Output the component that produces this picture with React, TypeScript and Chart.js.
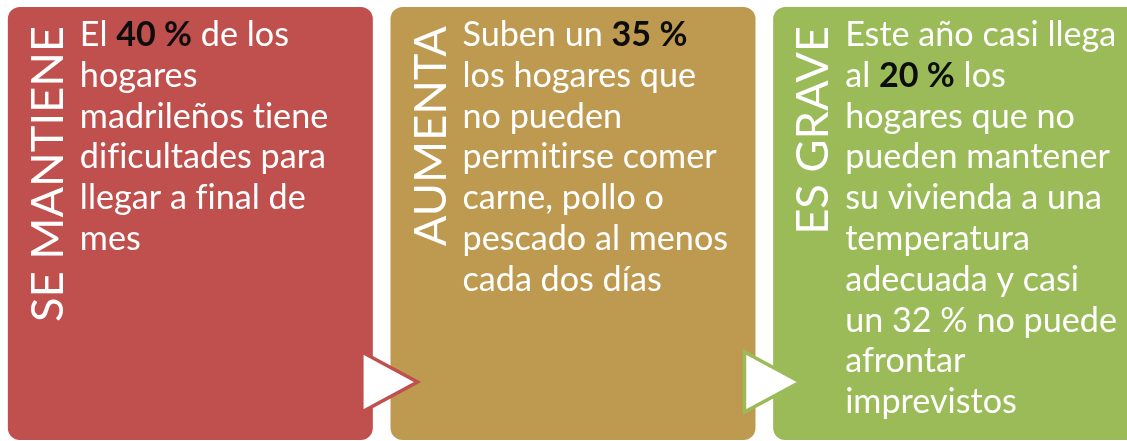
import React, { useEffect, useRef } from "react";
import { Chart, registerables } from "chart.js";

Chart.register(...registerables);

// ---- data ----
const categories = ["SE MANTIENE", "AUMENTA", "ES GRAVE"];
const panelExtent = [1, 1, 1];
const highlights = ["40 %", "35 %", "20 %"];
const panelColors = ["#C0504D", "#BE9A51", "#9BBB59"];
const arrowColors = ["#C0504D", "#9BBB59"];
const linesPanel1 = [
  "El {40 %} de los",
  "hogares",
  "madrileños tiene",
  "dificultades para",
  "llegar a final de",
  "mes",
];
const linesPanel2 = [
  "Suben un {35 %}",
  "los hogares que",
  "no pueden",
  "permitirse comer",
  "carne, pollo o",
  "pescado al menos",
  "cada dos días",
];
const linesPanel3 = [
  "Este año casi llega",
  "al {20 %} los",
  "hogares que no",
  "pueden mantener",
  "su vivienda a una",
  "temperatura",
  "adecuada y casi",
  "un 32 % no puede",
  "afrontar",
  "imprevistos",
];
const panelLines = [linesPanel1, linesPanel2, linesPanel3];

const FONT = "Lato, 'Open Sans', 'DejaVu Sans', sans-serif";

function setSpacing(ctx: any) {
  // a tiny letter spacing switches off ligatures such as "ti"
  if ("letterSpacing" in ctx) ctx.letterSpacing = "0.01px";
}

function fitSize(ctx: CanvasRenderingContext2D, text: string, weight: string, target: number) {
  ctx.font = `${weight} 100px ${FONT}`;
  setSpacing(ctx);
  const w = ctx.measureText(text).width;
  return (100 * target) / w;
}

const panelTextPlugin = {
  id: "panelText",
  afterDatasetsDraw(chart: any) {
    const ctx: CanvasRenderingContext2D = chart.ctx;
    const meta = chart.getDatasetMeta(0);
    const bars = meta.data;

    ctx.save();
    setSpacing(ctx);

    // body font size fitted to the reference line widths
    const s1 = fitSize(ctx, "madrileños tiene", "normal", 251);
    const s2 = fitSize(ctx, "pescado al menos", "normal", 266);
    const s3 = fitSize(ctx, "Este año casi llega", "normal", 268);
    const bodySize = (s1 + s2 + s3) / 3;
    const labelSize = fitSize(ctx, categories[0], "normal", 296);

    // arrows
    for (let i = 0; i < bars.length - 1; i++) {
      const a = bars[i];
      const b = bars[i + 1];
      const right = a.x + a.width / 2;
      const nextLeft = b.x - b.width / 2;
      const left = right - 11;
      const tip = nextLeft + 27;
      const cy = a.base - 58;
      ctx.beginPath();
      ctx.moveTo(left, cy - 30);
      ctx.lineTo(tip, cy);
      ctx.lineTo(left, cy + 30);
      ctx.closePath();
      ctx.fillStyle = "#FFFFFF";
      ctx.fill();
      ctx.lineWidth = 3.5;
      ctx.lineJoin = "miter";
      ctx.strokeStyle = arrowColors[i];
      ctx.stroke();
    }

    bars.forEach((bar: any, i: number) => {
      const left = bar.x - bar.width / 2;
      const top = bar.y;

      // vertical label
      ctx.save();
      ctx.translate(left + 55, top + 19);
      ctx.rotate(-Math.PI / 2);
      ctx.font = `normal ${labelSize}px ${FONT}`;
      setSpacing(ctx);
      ctx.fillStyle = "#FFFFFF";
      ctx.textAlign = "right";
      ctx.textBaseline = "alphabetic";
      ctx.fillText(categories[i], 0, 0);
      ctx.restore();

      // body lines
      const lines = panelLines[i];
      const lineH = 40.8;
      let y = top + 39;
      ctx.textAlign = "left";
      ctx.textBaseline = "alphabetic";
      lines.forEach((line) => {
        let x = left + 72;
        const parts = line.split(/(\{[^}]*\})/).filter((p) => p.length);
        parts.forEach((p) => {
          const bold = p.startsWith("{");
          const txt = bold ? p.slice(1, -1) : p;
          ctx.font = `${bold ? "bold" : "normal"} ${bodySize}px ${FONT}`;
          setSpacing(ctx);
          ctx.fillStyle = bold ? "#0D0D0D" : "#FFFFFF";
          ctx.fillText(txt, x, y);
          x += ctx.measureText(txt).width;
        });
        y += lineH;
      });
    });
    ctx.restore();
  },
};

export default function App() {
  const ref = useRef<HTMLCanvasElement | null>(null);
  useEffect(() => {
    if (!ref.current) return;
    const chart = new Chart(ref.current, {
      type: "bar",
      data: {
        labels: categories,
        datasets: [
          {
            label: highlights.join(" / "),
            data: panelExtent,
            backgroundColor: panelColors,
            borderWidth: 0,
            borderRadius: 12,
            borderSkipped: false,
            barPercentage: 365 / 382.67,
            categoryPercentage: 1,
          },
        ],
      },
      options: {
        responsive: false,
        animation: false,
        events: [],
        layout: { padding: 0 },
        plugins: { legend: { display: false }, tooltip: { enabled: false } },
        scales: {
          x: { display: false, offset: true },
          y: { display: false, min: 0, max: 1 },
        },
      },
      plugins: [panelTextPlugin],
    });
    return () => chart.destroy();
  }, []);
  return (
    <div
      style={{
        position: "fixed",
        left: 0,
        top: 0,
        width: "100vw",
        height: "100vh",
        overflow: "hidden",
        background: "#FFFFFF",
      }}
    >
      <canvas
        ref={ref}
        width={1148}
        height={433}
        style={{ position: "absolute", left: -1, top: 7, display: "block" }}
      />
    </div>
  );
}
